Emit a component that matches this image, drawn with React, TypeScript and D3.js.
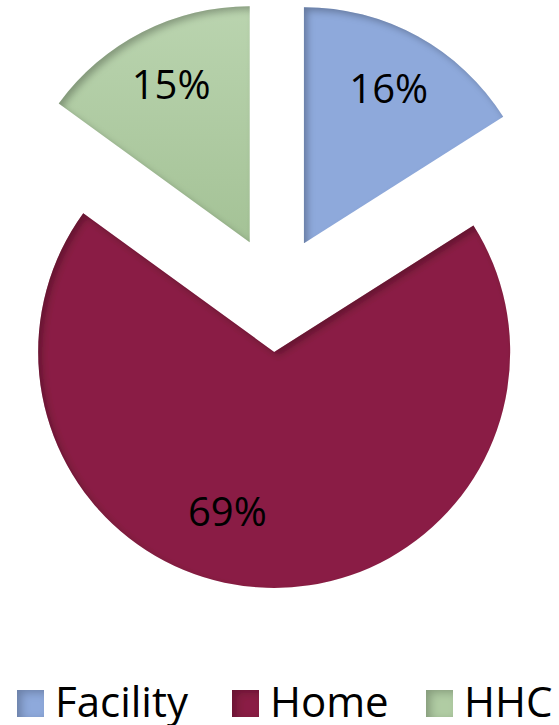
import React from "react";
import * as d3 from "d3";

const categories = ["Facility", "Home", "HHC"];
const values = [16, 69, 15];
const labels = ["16%", "69%", "15%"];
const colors = ["#8EA9DB", "#8A1E44", "#B0CCA3"];
const labelNudgeDeg = [0, 14.5, 0.5];

const W = 559;
const H = 725;
const CX = 276;
const CY = 294;
const R = 236;
const EXPLODE = 58;
const FONT = "'Open Sans', 'Noto Sans', sans-serif";

export default function App() {
  const pie = d3.pie<number>().sort(null).value((d) => d).startAngle(0).endAngle(2 * Math.PI);
  const arcs = pie(values);
  const arc = d3.arc<d3.PieArcDatum<number>>().innerRadius(0).outerRadius(R);

  const legendX = [17, 232, 426];

  return (
    <svg width={W} height={H} style={{ position: "absolute", left: 0, top: 0, background: "#fff" }}>
      <defs>
        <filter id="inner" x="-10%" y="-10%" width="120%" height="120%">
          <feOffset in="SourceAlpha" dx="4" dy="4" result="off" />
          <feGaussianBlur in="off" stdDeviation="3.5" result="blur" />
          <feComposite operator="out" in="SourceAlpha" in2="blur" result="inverse" />
          <feFlood floodColor="#000" floodOpacity="0.5" result="color" />
          <feComposite operator="in" in="color" in2="inverse" result="shadow" />
          <feComposite operator="over" in="shadow" in2="SourceGraphic" />
        </filter>
        <filter id="innerSm" x="-20%" y="-20%" width="140%" height="140%">
          <feOffset in="SourceAlpha" dx="5" dy="3" result="off" />
          <feGaussianBlur in="off" stdDeviation="4" result="blur" />
          <feComposite operator="out" in="SourceAlpha" in2="blur" result="inverse" />
          <feFlood floodColor="#000" floodOpacity="0.45" result="color" />
          <feComposite operator="in" in="color" in2="inverse" result="shadow" />
          <feComposite operator="over" in="shadow" in2="SourceGraphic" />
        </filter>
        <linearGradient id="g2" x1="0" y1="0" x2="0" y2="1">
          <stop offset="0" stopColor="#BAD4AF" />
          <stop offset="1" stopColor="#A4C296" />
        </linearGradient>
      </defs>
      {arcs.map((a, i) => {
        const mid = (a.startAngle + a.endAngle) / 2;
        const ox = CX + EXPLODE * Math.sin(mid);
        const oy = CY - EXPLODE * Math.cos(mid);
        const la = mid + (labelNudgeDeg[i] * Math.PI) / 180;
        const ld = i === 1 ? 167 : 176;
        const lx = ox + ld * Math.sin(la);
        const ly = oy - ld * Math.cos(la);
        return (
          <g key={categories[i]} transform={`translate(${ox},${oy})`}>
            <path d={arc(a) || ""} fill={i === 2 ? "url(#g2)" : colors[i]} filter="url(#inner)" />
            <text
              x={lx - ox}
              y={ly - oy + 14}
              textAnchor="middle"
              fontFamily={FONT}
              fontSize={40}
              fill="#000"
            >
              {labels[i]}
            </text>
          </g>
        );
      })}
      {categories.map((c, i) => (
        <g key={c} transform={`translate(${legendX[i]},690)`}>
          <rect x={0} y={0} width={27} height={27} fill={colors[i]} filter="url(#innerSm)" />
          <text x={38} y={27} fontFamily={FONT} fontSize={42} fill="#000">
            {c}
          </text>
        </g>
      ))}
    </svg>
  );
}
